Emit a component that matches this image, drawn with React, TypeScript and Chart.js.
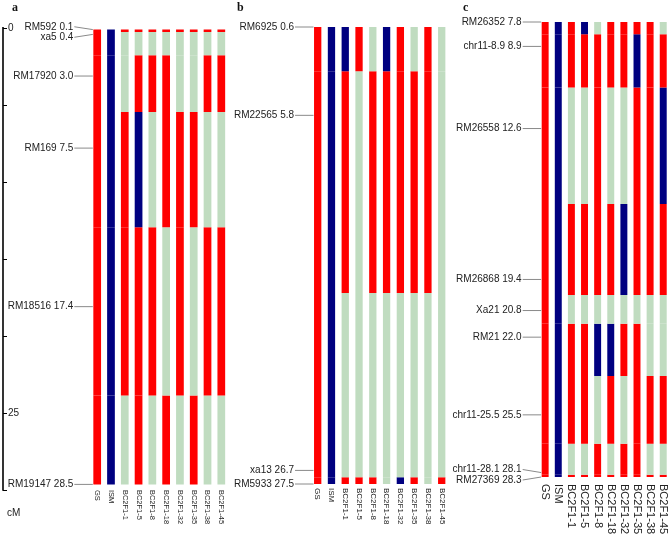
import React, { useEffect, useRef } from "react";
import { Chart, registerables } from "chart.js";
Chart.register(...registerables);

// ---------- data ----------
const lines = ["GS", "ISM", "BC2F1-1", "BC2F1-5", "BC2F1-8", "BC2F1-18", "BC2F1-32", "BC2F1-35", "BC2F1-38", "BC2F1-45"];

// A = GS allele, B = ISM allele, H = heterozygous ; one string per line, one letter per marker
const aMarkers = ["RM592", "xa5", "RM17920", "RM169", "RM18516", "RM19147"];
const aPositions = [0.1, 0.4, 3.0, 7.5, 17.4, 28.5];
const aGenotypes = ["AAAAAA", "BBBBBB", "AHHAAH", "AHABAA", "AHAHAH", "AHAAHA", "AHHAAH", "AHHAHA", "AHAHAH", "AHAHAH"];
const aAxisTicks = [0, 5, 10, 15, 20, 25, 30];
const aAxisLabels = ["0", "", "", "", "", "25", ""];

const bMarkers = ["RM6925", "RM22565", "xa13", "RM5933"];
const bPositions = [0.6, 5.8, 26.7, 27.5];
const bGenotypes = ["AAAA", "BBBB", "BAHA", "AHHA", "HAHA", "BAHH", "AAHB", "HAHA", "AAHH", "HHHA"];

const cMarkers = ["RM26352", "chr11-8.9", "RM26558", "RM26868", "Xa21", "RM21", "chr11-25.5", "chr11-28.1", "RM27369"];
const cPositions = [7.8, 8.9, 12.6, 19.4, 20.8, 22.0, 25.5, 28.1, 28.3];
const cGenotypes = ["AAAAAAAAA", "BBBBBBBBB", "AAHAHAAHA", "BAHAHAAHA", "HAAAHBHAA", "AAHAHBAHA", "AAHBHAHAA", "ABAAHAAAA", "AAAAHHAHA", "HABAHHAHA"];

// ---------- styles ----------
const COLORS: Record<string, string> = { A: "#FF0000", B: "#000080", H: "#C0DCC0" };
const SANS = "'Liberation Sans', Arial, sans-serif";
const SERIF = "'Liberation Serif', 'Times New Roman', serif";
const H = 535;

type PanelCfg = {
  title: string; markers: string[]; positions: number[]; genotypes: string[];
  left: number; width: number; padL: number; padR: number; padT: number; padB: number;
  yMin: number; yMax: number; barPct: number; catFont: number; catGap: number; titleX: number;
  axis?: boolean;
};

const panels: PanelCfg[] = [
  { title: "a", markers: aMarkers, positions: aPositions, genotypes: aGenotypes,
    left: 0, width: 230, padL: 90.3, padR: 1.8, padT: 28, padB: H - 490,
    yMin: 0, yMax: 28.85, barPct: 0.56, catFont: 7.5, catGap: 5.5, titleX: 12, axis: true },
  { title: "b", markers: bMarkers, positions: bPositions, genotypes: bGenotypes,
    left: 230, width: 220, padL: 80.8, padR: 1.4, padT: 27, padB: H - 484,
    yMin: 0.6, yMax: 27.5, barPct: 0.53, catFont: 8, catGap: 4, titleX: 7 },
  { title: "c", markers: cMarkers, positions: cPositions, genotypes: cGenotypes,
    left: 450, width: 222, padL: 88.6, padR: 2.2, padT: 22, padB: H - 477,
    yMin: 7.8, yMax: 28.3, barPct: 0.53, catFont: 11, catGap: 7, titleX: 13 },
];

function segments(pos: number[]): [number, number][] {
  return pos.map((p, i) => {
    const lo = i === 0 ? p : (pos[i - 1] + p) / 2;
    const hi = i === pos.length - 1 ? p : (p + pos[i + 1]) / 2;
    return [lo, hi];
  });
}

function spread(ys: number[], gap: number): number[] {
  const out = ys.slice();
  for (let iter = 0; iter < 20; iter++) {
    let moved = false;
    for (let i = 1; i < out.length; i++) {
      const d = out[i] - out[i - 1];
      if (d < gap - 0.01) {
        const push = (gap - d) / 2;
        out[i - 1] -= push;
        out[i] += push;
        moved = true;
      }
    }
    if (!moved) break;
  }
  return out;
}

function makeChart(canvas: HTMLCanvasElement, p: PanelCfg) {
  const segs = segments(p.positions);
  const datasets = p.markers.map((m, mi) => ({
    label: m,
    data: lines.map(() => segs[mi]),
    backgroundColor: lines.map((_, li) => COLORS[p.genotypes[li][mi]]),
    borderWidth: 0,
    grouped: false,
    barPercentage: p.barPct,
    categoryPercentage: 1,
  }));

  const overlay = {
    id: "overlay" + p.title,
    afterDraw(chart: any) {
      const ctx = chart.ctx as CanvasRenderingContext2D;
      const xs = chart.scales.x;
      const ys = chart.scales.y;
      const el = chart.getDatasetMeta(0).data[0];
      const barLeft = el.x - el.width / 2;
      ctx.save();

      // title
      ctx.fillStyle = "#111";
      ctx.font = `bold 12px ${SERIF}`;
      ctx.textAlign = "left";
      ctx.textBaseline = "middle";
      ctx.fillText(p.title, p.titleX, 8);

      // marker labels with leader lines
      const markerY = p.positions.map((v) => ys.getPixelForValue(v));
      const labelY = spread(markerY, 10.5);
      ctx.font = `10px ${SANS}`;
      ctx.textAlign = "right";
      ctx.textBaseline = "middle";
      p.markers.forEach((m, i) => {
        ctx.fillStyle = "#222";
        ctx.fillText(`${m} ${p.positions[i].toFixed(1)}`, barLeft - 20, labelY[i]);
        ctx.strokeStyle = "#8a8a8a";
        ctx.lineWidth = 1;
        ctx.beginPath();
        ctx.moveTo(barLeft - 19, labelY[i]);
        ctx.lineTo(barLeft - 0.5, markerY[i]);
        ctx.stroke();
      });

      // category labels (rotated clockwise)
      const yBottom = ys.getPixelForValue(p.positions[p.positions.length - 1]);
      ctx.font = `${p.catFont}px ${SANS}`;
      ctx.fillStyle = "#222";
      ctx.textAlign = "left";
      ctx.textBaseline = "middle";
      lines.forEach((name, i) => {
        const cx = xs.getPixelForValue(i);
        ctx.save();
        ctx.translate(cx, yBottom + p.catGap);
        ctx.rotate(Math.PI / 2);
        ctx.fillText(name, 0, 0);
        ctx.restore();
      });

      // cM axis
      if (p.axis) {
        const y2 = chart.scales.y2;
        const ax = 3;
        ctx.strokeStyle = "#000";
        ctx.lineWidth = 1.6;
        ctx.beginPath();
        ctx.moveTo(ax, y2.getPixelForValue(aAxisTicks[0]) - 1);
        ctx.lineTo(ax, y2.getPixelForValue(aAxisTicks[aAxisTicks.length - 1]) + 0.8);
        ctx.stroke();
        ctx.lineWidth = 1;
        ctx.font = `10px ${SANS}`;
        ctx.textAlign = "left";
        ctx.textBaseline = "middle";
        ctx.fillStyle = "#222";
        aAxisTicks.forEach((t, i) => {
          const ty = Math.round(y2.getPixelForValue(t)) + 0.5;
          ctx.beginPath();
          ctx.moveTo(ax, ty);
          ctx.lineTo(ax + 4, ty);
          ctx.stroke();
          if (aAxisLabels[i]) ctx.fillText(aAxisLabels[i], ax + 5, ty);
        });
        ctx.fillText("cM", 7, 513);
      }
      ctx.restore();
    },
  };

  const scales: any = {
    x: { type: "category", display: false, offset: true },
    y: { type: "linear", display: false, reverse: true, min: p.yMin, max: p.yMax },
  };
  if (p.axis) {
    scales.y2 = { type: "linear", display: false, reverse: true, min: aAxisTicks[0], max: aAxisTicks[aAxisTicks.length - 1] };
  }

  return new Chart(canvas, {
    type: "bar",
    data: { labels: lines, datasets: datasets as any },
    options: {
      responsive: false,
      animation: false,
      devicePixelRatio: 1,
      layout: { padding: { left: p.padL, right: p.padR, top: p.padT, bottom: p.padB } },
      plugins: { legend: { display: false }, tooltip: { enabled: false }, title: { display: false } },
      scales,
    },
    plugins: [overlay],
  });
}

export default function App() {
  const refs = useRef<(HTMLCanvasElement | null)[]>([]);
  useEffect(() => {
    const charts = panels.map((p, i) => makeChart(refs.current[i] as HTMLCanvasElement, p));
    return () => charts.forEach((c) => c.destroy());
  }, []);
  return (
    <div style={{ position: "fixed", left: 0, top: 0, width: 672, height: H, background: "#fff" }}>
      {panels.map((p, i) => (
        <canvas
          key={p.title}
          ref={(el) => { refs.current[i] = el; }}
          width={p.width}
          height={H}
          style={{ position: "absolute", left: p.left, top: 0, width: p.width, height: H }}
        />
      ))}
    </div>
  );
}
